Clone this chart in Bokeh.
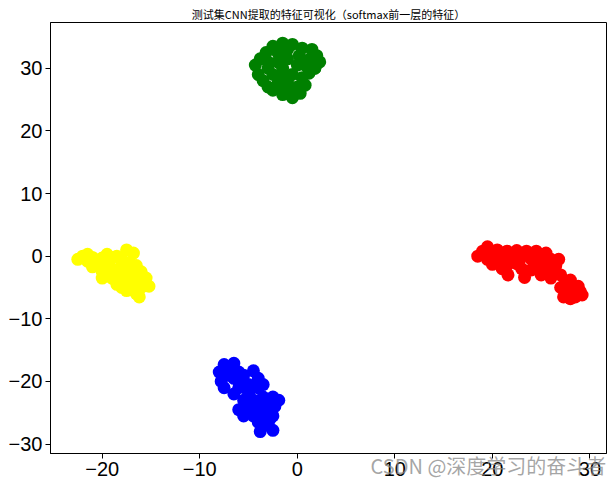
from bokeh.plotting import figure
from bokeh.models import Range1d, FixedTicker, ColumnDataSource
from bokeh.embed import file_html
from bokeh.resources import INLINE

title_text = "测试集CNN提取的特征可视化（softmax前一层的特征）"
watermark_text = "CSDN @深度学习的奋斗者"

x_ticks = [-20, -10, 0, 10, 20, 30]
y_ticks = [-30, -20, -10, 0, 10, 20, 30]

green_x = [-2.5, -1.5, -0.5, 0.5, -2.0, 0.2, 1.5, 2.0, 2.3, 1.8, 1.2,
           -4.3, -4.0, -3.5, -3.8, -3.0, -2.5,
           -2.0, -1.0, 0.0, -1.5, -0.5, 0.5, -2.0, -1.0, 0.0,
           -2.5, -1.5, -0.5, 0.3, -1.0, 0.8, -3.0, 1.8, -1.0, 1.0,
           -3.2, -1.5, 0.8, -0.2, 1.3, -3.0]
green_y = [33.5, 34.0, 33.8, 33.2, 32.5, 32.0, 33.0, 32.0, 31.0, 30.0, 29.2,
           30.5, 29.0, 28.0, 31.5, 30.0, 29.0,
           31.0, 31.5, 30.5, 30.0, 29.0, 28.5, 27.5, 28.0, 27.0,
           26.5, 25.8, 25.3, 26.0, 26.5, 27.3, 27.0, 30.0, 33.0, 31.0,
           32.5, 29.0, 30.5, 26.0, 31.5, 31.0]

red_x = [18.5, 19.0, 19.5, 20.0, 19.5, 20.5, 21.0, 20.5, 21.5, 22.0, 22.5, 23.0,
         21.5, 22.5, 23.5, 24.0, 24.5, 23.0, 24.0, 23.3, 25.0, 25.5, 26.0, 26.5,
         26.8, 25.0, 26.0, 27.0, 27.5, 28.0, 27.0, 28.2, 27.5, 28.5, 29.0, 29.2,
         28.0, 27.3, 28.8, 21.0, 20.0, 21.6, 25.5,
         20.8, 22.8, 25.0, 25.8, 24.6, 26.5, 27.8]
red_y = [0.0, 0.8, 1.5, 0.3, -0.5, 1.0, 0.2, -1.0, 0.8, -0.3, 0.9, 0.2,
         -1.5, -1.2, 0.8, -0.5, 0.8, -2.0, -2.2, -3.4, -1.0, -2.5, -0.5, -1.5,
         -0.5, -3.0, -3.5, -3.0, -4.0, -3.8, -5.0, -5.0, -6.0, -6.5, -5.6, -6.2,
         -6.8, -6.5, -4.8, -2.0, -1.3, -3.0, 0.5,
         -0.3, -0.6, 0.2, -1.8, -2.0, -2.5, -5.5]

yellow_x = [-22.5, -22.0, -21.5, -21.0, -20.5, -20.0, -19.5, -19.0, -18.5, -17.5,
            -16.8, -19.0, -18.0, -17.5, -16.5, -16.0, -15.5, -15.2, -16.0, -17.0,
            -18.0, -19.0, -18.5, -17.5, -17.0, -16.5, -16.2, -17.5, -16.0, -20.0,
            -18.0, -21.0, -20.0,
            -21.5, -20.8, -19.5, -18.5, -17.0, -16.5, -18.0, -19.5, -17.2]
yellow_y = [-0.5, 0.0, -0.8, -0.2, -1.5, -0.3, -1.0, -0.2, 0.0, 1.0,
            0.5, -2.0, -1.0, -2.0, -1.5, -2.5, -3.5, -4.8, -4.0, -3.0,
            -3.0, -3.5, -4.5, -4.0, -5.0, -6.0, -6.5, -5.5, -5.0, -2.5,
            -5.0, -1.7, -3.5,
            0.3, -0.9, -2.5, -2.5, -4.0, -3.5, -0.5, 0.3, -1.0]

blue_x = [-7.5, -6.5, -7.0, -8.0, -6.0, -7.8, -7.5, -6.5, -5.5, -4.5, -4.0, -5.0,
          -6.0, -4.0, -3.5, -5.0, -3.5, -2.5, -1.9, -3.0, -5.5, -6.0, -5.0, -4.0,
          -3.0, -5.5, -4.5, -3.5, -2.5, -4.0, -3.0, -3.8, -2.5, -2.8,
          -7.0, -6.0, -4.8, -4.5, -3.5, -2.3, -6.5]
blue_y = [-17.3, -17.1, -18.0, -18.5, -18.5, -20.0, -21.0, -19.5, -19.0, -18.3, -19.5, -20.5,
          -21.0, -21.0, -20.5, -22.0, -22.5, -22.5, -23.0, -23.5, -23.0, -24.5, -24.0, -24.5,
          -24.5, -25.5, -25.5, -25.8, -25.5, -26.5, -27.0, -28.0, -27.8, -26.0,
          -19.0, -20.0, -21.2, -23.0, -23.8, -24.0, -22.0]

p = figure(width=607, height=482, output_backend="svg", toolbar_location=None,
           x_range=Range1d(-25.3, 31.7), y_range=Range1d(-31.5, 37.3),
           min_border_left=50, min_border_right=1, min_border_top=22, min_border_bottom=20)

p.title.text = title_text
p.title.text_font = "Noto Sans CJK SC"
p.title.text_font_size = "11px"
p.title.text_font_style = "normal"
p.title.text_color = "black"
p.title.align = "center"
p.title.standoff = 2

for xs, ys, c in [(red_x, red_y, "red"), (yellow_x, yellow_y, "yellow"),
                  (blue_x, blue_y, "blue"), (green_x, green_y, "green")]:
    src = ColumnDataSource(dict(x=xs, y=ys))
    p.scatter("x", "y", source=src, size=13, fill_color=c, line_color=c, line_width=0)

p.grid.visible = False
p.outline_line_color = "black"
p.outline_line_width = 1

p.xaxis.ticker = FixedTicker(ticks=x_ticks)
p.yaxis.ticker = FixedTicker(ticks=y_ticks)
p.xaxis.major_label_overrides = {t: str(t).replace("-", "\u2212") for t in x_ticks}
p.yaxis.major_label_overrides = {t: str(t).replace("-", "\u2212") for t in y_ticks}
for ax in (p.xaxis, p.yaxis):
    ax.major_label_text_font = "Liberation Sans"
    ax.major_label_text_font_size = "20px"
    ax.major_label_text_color = "black"
    ax.axis_line_color = "black"
    ax.major_tick_line_color = "black"
    ax.major_tick_out = 5
    ax.major_tick_in = 0
    ax.minor_tick_line_color = None
    ax.major_label_standoff = 3

# watermark drawn as the x axis label (centred), padded on the left with
# ideographic spaces so the visible text sits at the lower right, over the ticks
p.xaxis.axis_label = "\u3000" * 16 + watermark_text
p.xaxis.axis_label_text_font = "Noto Sans CJK SC"
p.xaxis.axis_label_text_font_size = "20px"
p.xaxis.axis_label_text_font_style = "normal"
p.xaxis.axis_label_text_color = "#888888"
p.xaxis.axis_label_text_alpha = 0.75
p.xaxis.axis_label_standoff = -28
p.xaxis.axis_label_align = "center"

open("out.html", "w").write(file_html(p, INLINE))
